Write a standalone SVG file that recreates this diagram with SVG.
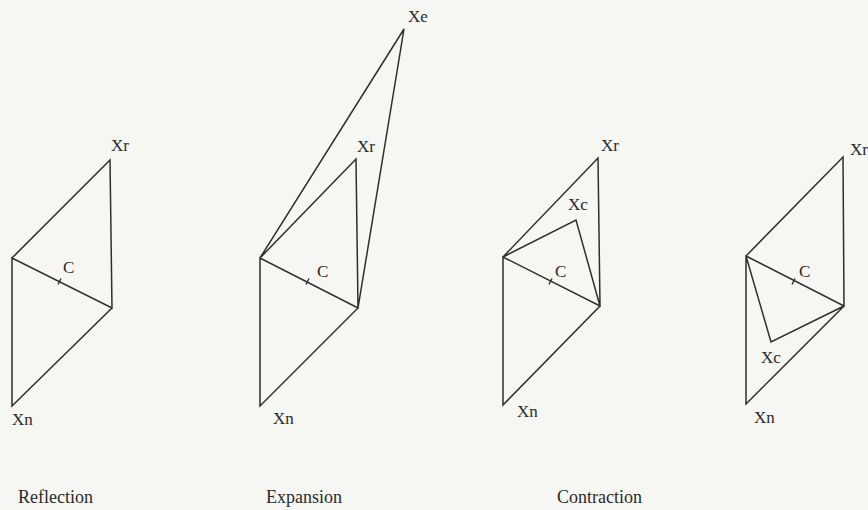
<svg xmlns="http://www.w3.org/2000/svg" width="868" height="510" viewBox="0 0 868 510">
<style>
.bg{fill:#f6f6f2}
.ln{fill:none;stroke:#2e2e2e;stroke-width:1.5;stroke-linejoin:miter;stroke-linecap:round}
.tk{fill:none;stroke:#2e2e2e;stroke-width:1.4}
.lb{font-family:"Liberation Serif","Times New Roman",serif;font-size:17px;fill:#2a2a2a}
.cap{font-family:"Liberation Serif","Times New Roman",serif;font-size:18px;fill:#2a2a2a}
</style>
<rect class="bg" x="0" y="0" width="868" height="510"/>

<g id="connectors">
  <!-- Reflection -->
  <g id="conn-reflection">
    <polyline class="ln" points="12,258 110,160 112,308 12,258 12,406 112,308"/>
    <line class="tk" x1="58" y1="284.5" x2="61" y2="278.5"/>
  </g>
  <!-- Expansion -->
  <g id="conn-expansion">
    <polyline class="ln" points="260,258 356,159 358,308 260,258 260,406 358,308 404,29 260,258"/>
    <line class="tk" x1="306" y1="284.5" x2="309" y2="278.5"/>
  </g>
  <!-- Contraction (outside) -->
  <g id="conn-contraction">
    <polyline class="ln" points="503,257 598,158 600,306 503,257 503,405 600,306 576,220 503,257"/>
    <line class="tk" x1="549" y1="284.5" x2="552" y2="278.5"/>
  </g>
  <!-- Contraction (inside) -->
  <g id="conn-contraction-inside">
    <polyline class="ln" points="746,256 843,157 844,306 746,256 746,404 844,306 771,342 746,256"/>
    <line class="tk" x1="792" y1="284.5" x2="795" y2="278.5"/>
  </g>
</g>

<g id="panel-reflection">
  <g id="r-xr"><text class="lb" x="111" y="151">Xr</text></g>
  <g id="r-c"><text class="lb" x="63" y="273">C</text></g>
  <g id="r-xn"><text class="lb" x="12" y="425">Xn</text></g>
  <g id="r-cap"><text class="cap" x="18" y="503">Reflection</text></g>
</g>

<g id="panel-expansion">
  <g id="e-xe"><text class="lb" x="408" y="22">Xe</text></g>
  <g id="e-xr"><text class="lb" x="357" y="152">Xr</text></g>
  <g id="e-c"><text class="lb" x="317" y="277">C</text></g>
  <g id="e-xn"><text class="lb" x="273" y="424">Xn</text></g>
  <g id="e-cap"><text class="cap" x="266" y="503">Expansion</text></g>
</g>

<g id="panel-contraction">
  <g id="c-xr"><text class="lb" x="601" y="151">Xr</text></g>
  <g id="c-xc"><text class="lb" x="568" y="210">Xc</text></g>
  <g id="c-c"><text class="lb" x="555" y="277">C</text></g>
  <g id="c-xn"><text class="lb" x="517" y="417">Xn</text></g>
  <g id="c-cap"><text class="cap" x="557" y="503">Contraction</text></g>
</g>

<g id="panel-contraction-inside">
  <g id="i-xr"><text class="lb" x="850" y="155">Xr</text></g>
  <g id="i-c"><text class="lb" x="799" y="277">C</text></g>
  <g id="i-xc"><text class="lb" x="761" y="363">Xc</text></g>
  <g id="i-xn"><text class="lb" x="754" y="423">Xn</text></g>
</g>
</svg>
